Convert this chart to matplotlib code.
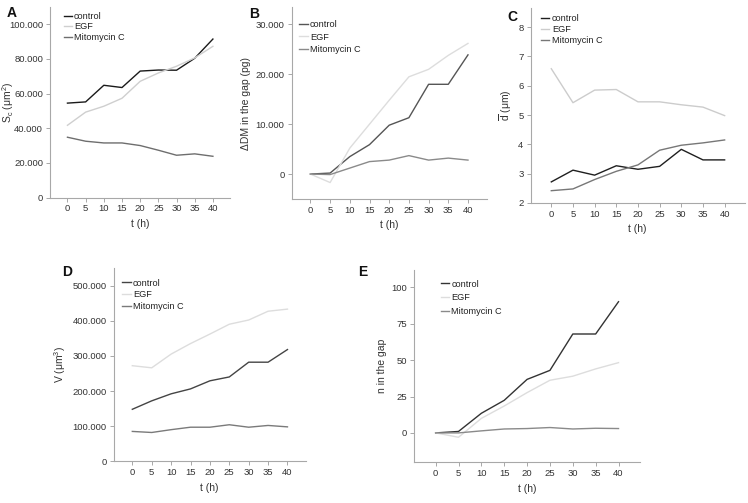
import matplotlib
matplotlib.use("Agg")
import matplotlib.pyplot as plt
from matplotlib.ticker import FuncFormatter, FixedLocator

plt.rcParams['font.family'] = ['Liberation Sans', 'DejaVu Sans']
plt.rcParams['mathtext.fontset'] = 'custom'
plt.rcParams['mathtext.rm'] = 'Liberation Sans'
plt.rcParams['mathtext.it'] = 'Liberation Sans:italic'
plt.rcParams['mathtext.bf'] = 'Liberation Sans:bold'

t = [0, 5, 10, 15, 20, 25, 30, 35, 40]
series_names = ["control", "EGF", "Mitomycin C"]

# Panel A: S_c (um^2)
a_control = [54500, 55200, 64800, 63500, 73000, 73600, 73500, 80400, 91500]
a_egf = [41700, 49300, 52700, 57300, 67100, 71900, 75800, 80600, 87300]
a_mito = [34800, 32500, 31500, 31500, 30000, 27300, 24400, 25200, 23800]

# Panel B: delta DM in the gap (pg)
b_control = [0, 200, 3500, 5900, 9800, 11300, 18000, 18000, 23900]
b_egf = [0, -1700, 5200, 10000, 14800, 19500, 21000, 23800, 26200]
b_mito = [0, -100, 1200, 2500, 2800, 3700, 2800, 3200, 2800]

# Panel C: mean d (um)
c_control = [2.72, 3.12, 2.95, 3.27, 3.15, 3.25, 3.83, 3.47, 3.47]
c_egf = [6.58, 5.42, 5.85, 5.87, 5.45, 5.45, 5.35, 5.27, 4.98]
c_mito = [2.42, 2.48, 2.80, 3.08, 3.30, 3.80, 3.97, 4.05, 4.15]

# Panel D: V (um^3)
d_control = [148000, 172000, 192000, 206000, 229000, 240000, 282000, 282000, 318000]
d_egf = [272000, 266000, 305000, 335000, 362000, 390000, 402000, 427000, 433000]
d_mito = [85000, 82000, 90000, 97000, 97000, 104000, 97000, 102000, 98000]

# Panel E: n in the gap
e_control = [0, 1, 13.5, 22.4, 36.8, 43, 68, 68, 90.2]
e_egf = [0, -3, 10, 18.5, 27.7, 36.2, 39, 44, 48.3]
e_mito = [0, 0, 1.4, 2.7, 3.0, 3.7, 2.7, 3.2, 3.0]

W, H = 748, 503
fig = plt.figure(figsize=(W / 100, H / 100), dpi=100)


def add_ax(left, top, right, bottom):
    return fig.add_axes([left / W, 1 - bottom / H, (right - left) / W, (bottom - top) / H])


def thousands(v, pos):
    iv = int(round(v))
    return f"{iv:,}".replace(",", ".")


def style(ax, ylim, yticks, ylabel, fmt=None, label_x=None):
    ax.set_xlim(-4.8, 44.7)
    ax.set_ylim(*ylim)
    ax.xaxis.set_major_locator(FixedLocator(t))
    ax.yaxis.set_major_locator(FixedLocator(yticks))
    if fmt is not None:
        ax.yaxis.set_major_formatter(FuncFormatter(fmt))
    for s in ("top", "right"):
        ax.spines[s].set_visible(False)
    for s in ("left", "bottom"):
        ax.spines[s].set_color("#a8a8a8")
        ax.spines[s].set_linewidth(0.8)
    ax.tick_params(direction="out", length=3, width=0.7, color="#a8a8a8",
                   labelsize=6.8, labelcolor="#333333", pad=2)
    ax.set_xlabel("t (h)", fontsize=7.5, color="#333333", labelpad=4)
    ax.set_ylabel(ylabel, fontsize=7.5, color="#333333", labelpad=3)
    if label_x is not None:
        ax.yaxis.set_label_coords(label_x, 0.5)
    ax.patch.set_alpha(0)


def draw(ax, ys, colors, leg_xy, spacing):
    for y, c, n in zip(ys, colors, series_names):
        ax.plot(t, y, color=c, lw=1.0, label=n)
    leg = ax.legend(loc="upper left", bbox_to_anchor=leg_xy, frameon=False,
                    fontsize=6.6, handlelength=0.9, handletextpad=0.25,
                    borderaxespad=0, borderpad=0, labelspacing=spacing)
    for txt in leg.get_texts():
        txt.set_color("#222222")


# A
axA = add_ax(50, 7, 230, 197.5)
draw(axA, [a_control, a_egf, a_mito], ["#1a1a1a", "#cfcfcf", "#6e6e6e"], (0.075, 0.975), 0.18)
style(axA, (0, 110000), [0, 20000, 40000, 60000, 80000, 100000],
      r"S$_\mathrm{c}$ (μm$^2$)", thousands, label_x=-0.19)

# B
axB = add_ax(291.5, 7, 486.5, 199)
draw(axB, [b_control, b_egf, b_mito], ["#555555", "#dddddd", "#8a8a8a"], (0.04, 0.93), 0.35)
style(axB, (-5000, 33500), [0, 10000, 20000, 30000], "ΔDM in the gap (pg)", thousands)

# C
axC = add_ax(530.5, 8, 745, 203)
draw(axC, [c_control, c_egf, c_mito], ["#1f1f1f", "#cccccc", "#777777"], (0.05, 0.97), 0.22)
style(axC, (2, 8.65), [2, 3, 4, 5, 6, 7, 8], r"$\overline{\mathrm{d}}$ (μm)")

# D
axD = add_ax(113.7, 268, 305.7, 461.3)
draw(axD, [d_control, d_egf, d_mito], ["#444444", "#dddddd", "#7a7a7a"], (0.045, 0.945), 0.3)
style(axD, (0, 550000), [0, 100000, 200000, 300000, 400000, 500000], "V (μm$^3$)", thousands)

# E
axE = add_ax(413.7, 270, 640, 462)
draw(axE, [e_control, e_egf, e_mito], ["#333333", "#dddddd", "#8a8a8a"], (0.12, 0.95), 0.5)
style(axE, (-20, 112), [0, 25, 50, 75, 100], "n in the gap")

# Panel letters
for letter, x, y in [("A", 7, 13), ("B", 249, 14), ("C", 507, 17), ("D", 62, 272), ("E", 358, 272)]:
    fig.text(x / W, 1 - y / H, letter, fontsize=10, fontweight="bold",
             ha="left", va="center", color="#111111")

fig.savefig("out.png", dpi=100)
